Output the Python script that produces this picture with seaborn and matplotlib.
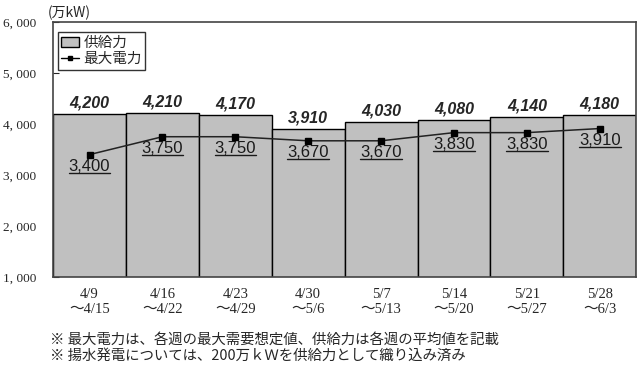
import matplotlib
matplotlib.use("Agg")
import matplotlib.pyplot as plt
import seaborn as sns
import pandas as pd
import numpy as np
from matplotlib.patches import Patch
from matplotlib.lines import Line2D

weeks = ["4/9\n～4/15", "4/16\n～4/22", "4/23\n～4/29", "4/30\n～5/6",
         "5/7\n～5/13", "5/14\n～5/20", "5/21\n～5/27", "5/28\n～6/3"]
supply = [4200, 4210, 4170, 3910, 4030, 4080, 4140, 4180]
peak = [3400, 3750, 3750, 3670, 3670, 3830, 3830, 3910]
yticks = [1000, 2000, 3000, 4000, 5000, 6000]
ytick_labels = ["1, 000", "2, 000", "3, 000", "4, 000", "5, 000", "6, 000"]

sns.set_style("white")
plt.rcParams['font.family'] = ['Liberation Serif', 'Noto Sans CJK JP', 'DejaVu Sans']

df = pd.DataFrame({"week": weeks, "supply": supply, "peak": peak})

fig = plt.figure(figsize=(6.4, 3.77), dpi=100)
ax = fig.add_axes([0.083, 0.265, 0.911, 0.677])

sns.barplot(data=df, x="week", y="supply", ax=ax, color="#c0c0c0",
            width=1.0, edgecolor="black", linewidth=1.0, saturation=1)
xs = np.arange(len(weeks))
ax.plot(xs, peak, color="#222222", lw=1.1, marker="s", ms=4.5,
        markerfacecolor="black", markeredgecolor="black", zorder=5)

for x, v in zip(xs, supply):
    ax.annotate(f"{v:,}", (x, v), xytext=(0, 2.5), textcoords="offset points",
                ha="center", va="bottom", fontsize=11.5, fontweight="bold",
                fontstyle="italic", family="Liberation Sans")
peak_texts = []
for x, v in zip(xs, peak):
    t = ax.annotate(f"{v:,}", (x, v), xytext=(0, -3), textcoords="offset points",
                    ha="center", va="top", fontsize=12, color="#1a1a1a",
                    family="Liberation Sans")
    peak_texts.append(t)

ax.set_xlim(-0.5, len(weeks) - 0.5)
ax.set_ylim(1000, 6000)
ax.set_yticks(yticks)
ax.set_yticklabels(ytick_labels, fontsize=9.5)
ax.tick_params(axis="y", direction="in", length=4, left=True, pad=12)
ax.tick_params(axis="x", length=0, labelsize=10.5, pad=8)
ax.set_xlabel("")
ax.set_ylabel("")
for s in ax.spines.values():
    s.set_color("#444444")
    s.set_linewidth(1.2)

fig.text(0.075, 0.965, "(万kW)", fontsize=10, ha="left", va="center",
         family=['Noto Sans CJK JP'])

handles = [Patch(facecolor="#c0c0c0", edgecolor="black", label="供給力"),
           Line2D([0], [0], color="black", marker="s", ms=3, lw=1, label="最大電力")]
leg = ax.legend(handles=handles, loc="upper left", bbox_to_anchor=(0.003, 0.97),
                prop={'family': 'Noto Sans CJK JP', 'size': 10.5}, frameon=True,
                fancybox=False, edgecolor="black", handlelength=1.2,
                handletextpad=0.3, borderpad=0.25, labelspacing=0.15,
                borderaxespad=0.2)
leg.get_frame().set_linewidth(1.0)

fig.text(0.078, 0.098, "※ 最大電力は、各週の最大需要想定値、供給力は各週の平均値を記載",
         fontsize=10.4, family=['Noto Sans CJK JP'], ha="left", va="center")
fig.text(0.078, 0.055, "※ 揚水発電については、200万ｋＷを供給力として織り込み済み",
         fontsize=10.4, family=['Noto Sans CJK JP'], ha="left", va="center")

# underline the peak labels
fig.canvas.draw()
r = fig.canvas.get_renderer()
inv = fig.transFigure.inverted()
for t in peak_texts:
    bb = t.get_window_extent(r)
    (x0, y0), (x1, y1) = inv.transform([(bb.x0, bb.y0), (bb.x1, bb.y1)])
    yl = y0 + 0.002
    fig.add_artist(Line2D([x0, x1], [yl, yl], transform=fig.transFigure,
                          color="#1a1a1a", lw=1.0))

fig.savefig("out.png", dpi=100)
